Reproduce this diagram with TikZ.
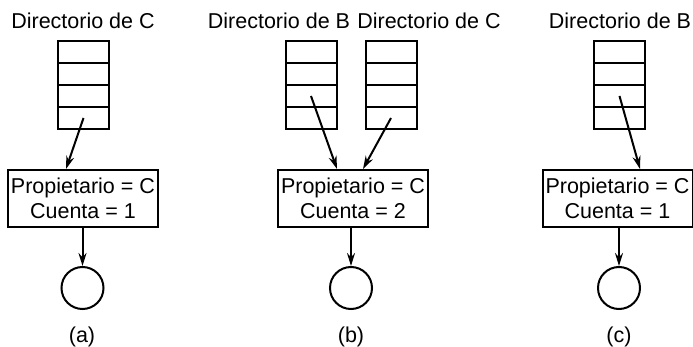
\documentclass[tikz,border=0pt]{standalone}
\usepackage{fontspec}
\setmainfont{Liberation Sans}
\usetikzlibrary{arrows.meta}
\begin{document}
\begin{tikzpicture}[x=1pt,y=-1pt,
  cell/.style={draw,line width=2pt,minimum width=51pt,minimum height=22pt,inner sep=0pt,outer sep=0pt},
  infobox/.style={draw,line width=2pt,minimum width=150pt,minimum height=57pt,align=center,inner sep=0pt,font=\fontsize{21.5}{25}\selectfont},
  lbl/.style={font=\fontsize{21.5}{24}\selectfont,inner sep=0pt},
  obj/.style={draw,circle,line width=2pt,minimum size=42pt,inner sep=0pt},
  ptr/.style={line width=2pt,-{Stealth[length=13pt,width=8pt]}}]
\useasboundingbox (0,0) rectangle (693,347);
% directory tables
\foreach \n/\x in {ta/83.5,tb/311,tc/391,td/619.5}{
  \foreach \i/\y in {1/52,2/74,3/96,4/118}{
    \node[cell] (\n\i) at (\x,\y) {};
  }
}
% labels
\node[lbl] (la) at (83,21) {Directorio de C};
\node[lbl] (lb) at (279,21) {Directorio de B};
\node[lbl] (lc) at (429,21) {Directorio de C};
\node[lbl] (ld) at (620,21) {Directorio de B};
% info boxes
\node[infobox] (ia) at (83,198.5) {Propietario = C\\Cuenta = 1};
\node[infobox] (ib) at (353,198.5) {Propietario = C\\Cuenta = 2};
\node[infobox] (ic) at (617.5,198.5) {Propietario = C\\Cuenta = 1};
% objects
\node[obj] (oa) at (82.5,288) {};
\node[obj] (ob) at (351,288) {};
\node[obj] (oc) at (619,288) {};
% captions
\node[lbl] (ca) at (82,337) {(a)};
\node[lbl] (cb) at (351,337) {(b)};
\node[lbl] (cc) at (619,337) {(c)};
% pointers
\draw[ptr] (ta4.center) -- (ia.north -| 66,0);
\draw[ptr] (tb3.center) -- (ib.north -| 337,0);
\draw[ptr] (tc4.center) -- (ib.north -| 363,0);
\draw[ptr] (td3.center) -- (ic.north -| 640,0);
\draw[ptr] (ia.south -| oa.north) -- (oa.north);
\draw[ptr] (ib.south -| ob.north) -- (ob.north);
\draw[ptr] (ic.south -| oc.north) -- (oc.north);
\end{tikzpicture}
\end{document}
